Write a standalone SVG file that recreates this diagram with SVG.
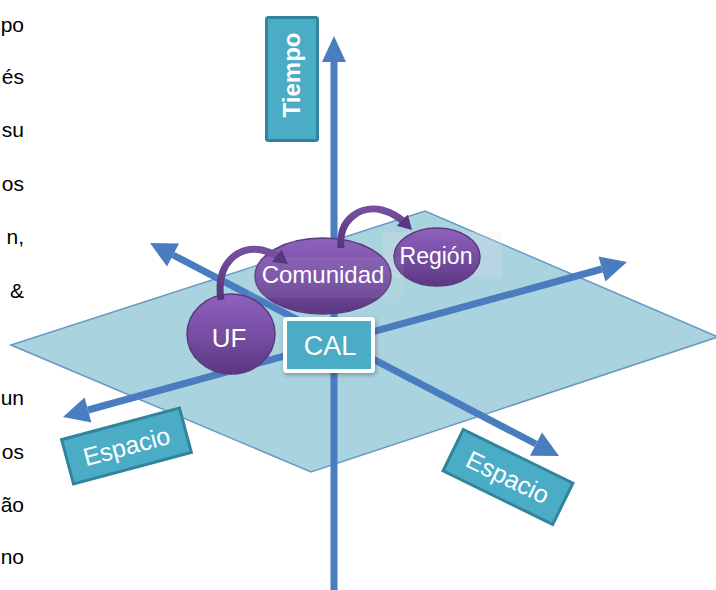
<svg xmlns="http://www.w3.org/2000/svg" width="716" height="590" viewBox="0 0 716 590">
<defs>
<style>
.side{font-family:"Liberation Sans",Arial,sans-serif;font-size:21px;fill:#000;text-anchor:end}
.lbl{font-family:"Liberation Sans",Arial,sans-serif;fill:#fff;text-anchor:middle}
.axis{stroke:#4a7dbf;stroke-width:7;fill:none}
.head{fill:#4a7dbf}
.tbox{fill:#4bacc6;stroke:#31849b;stroke-width:3}
.ell{fill:url(#pg);stroke:#5a397c;stroke-width:1.5}
.curve{fill:none;stroke:url(#cg);stroke-width:7}
.faint{fill:#e9e3f2}
</style>
<linearGradient id="pg" x1="0" y1="0" x2="0" y2="1">
<stop offset="0" stop-color="#8f61bd"/>
<stop offset="0.5" stop-color="#774ea4"/>
<stop offset="1" stop-color="#5b3882"/>
</linearGradient>
<linearGradient id="cg" x1="0" y1="0" x2="0" y2="1">
<stop offset="0" stop-color="#7650a0"/>
<stop offset="1" stop-color="#523474"/>
</linearGradient>
<marker id="ah" markerUnits="userSpaceOnUse" markerWidth="20" markerHeight="20" refX="4" refY="8" orient="auto">
<path d="M0,0 L14,8 L0,16 Z" fill="#573780"/>
</marker>
<filter id="sh" x="-20%" y="-20%" width="140%" height="140%">
<feDropShadow dx="1" dy="2" stdDeviation="2" flood-color="#000" flood-opacity="0.3"/>
</filter>
</defs>
<rect width="716" height="590" fill="#fff"/>
<g id="side-text">
<text class="side" x="24" y="32">po</text>
<text class="side" x="24" y="84">és</text>
<text class="side" x="24" y="137">su</text>
<text class="side" x="24" y="191">os</text>
<text class="side" x="24" y="244">n,</text>
<text class="side" x="24" y="298">&amp;</text>
<text class="side" x="24" y="405">un</text>
<text class="side" x="24" y="459">os</text>
<text class="side" x="24" y="512">ão</text>
<text class="side" x="24" y="564">no</text>
</g>
<g id="plane">
<polygon points="11,345 425,211 718,337 311,472" fill="#a9d3de" stroke="#6a98c4" stroke-width="1.5"/>
</g>
<g id="connectors">
<line class="axis" x1="334" y1="590" x2="334" y2="58"/>
<polygon class="head" points="334,36 322,62 346,62"/>
<line class="axis" x1="173" y1="255" x2="536" y2="444"/>
<polygon class="head" points="150,243 179,243.5 167,266.5"/>
<polygon class="head" points="559,456 530,455.7 542,432.5"/>
<line class="axis" x1="88" y1="410" x2="602" y2="269"/>
<polygon class="head" points="63,417 91.4,422.6 84.6,397.6"/>
<polygon class="head" points="627,262 605.4,281.4 598.6,256.4"/>
</g>
<g id="tiempo">
<rect class="tbox" x="266.5" y="17.5" width="51" height="123" rx="2"/>
<text class="lbl" transform="translate(300,75) rotate(-90)" font-size="24" font-weight="bold">Tiempo</text>
</g>
<g id="espacio-left">
<g transform="translate(126.5,446) rotate(-15)">
<rect class="tbox" x="-61" y="-23" width="122" height="46"/>
<text class="lbl" x="0" y="9" font-size="25">Espacio</text>
</g>
</g>
<g id="espacio-right">
<g transform="translate(508,477) rotate(26)">
<rect class="tbox" x="-61" y="-23" width="122" height="46"/>
<text class="lbl" x="0" y="9" font-size="25">Espacio</text>
</g>
</g>
<g id="region">
<rect class="faint" x="383" y="232" width="119" height="45" style="opacity:0.22"/>
<ellipse class="ell" cx="437" cy="257" rx="43" ry="29"/>
<text class="lbl" x="436" y="264" font-size="23">Región</text>
</g>
<g id="comunidad">
<ellipse class="ell" cx="323" cy="276" rx="68" ry="38"/>
<rect class="faint" x="248" y="257" width="156" height="41" style="opacity:0.08"/>
<text class="lbl" x="323" y="283" font-size="24">Comunidad</text>
</g>
<g id="uf">
<ellipse class="ell" cx="231" cy="334" rx="44" ry="40"/>
<text class="lbl" x="229" y="347" font-size="26">UF</text>
</g>
<g id="cal">
<rect x="285" y="319" width="88" height="52" rx="2" fill="#4bacc6" stroke="#fff" stroke-width="4" filter="url(#sh)"/>
<text class="lbl" x="330" y="355" font-size="27">CAL</text>
</g>
<g id="curved-arrows">
<path class="curve" d="M221,300 C215,262 240,245 262,250 C270,252 276,255 280,258" marker-end="url(#ah)"/>
<path class="curve" d="M341,248 C338,218 362,205 382,210 C393,213 400,218 405,223" marker-end="url(#ah)"/>
</g>
</svg>
